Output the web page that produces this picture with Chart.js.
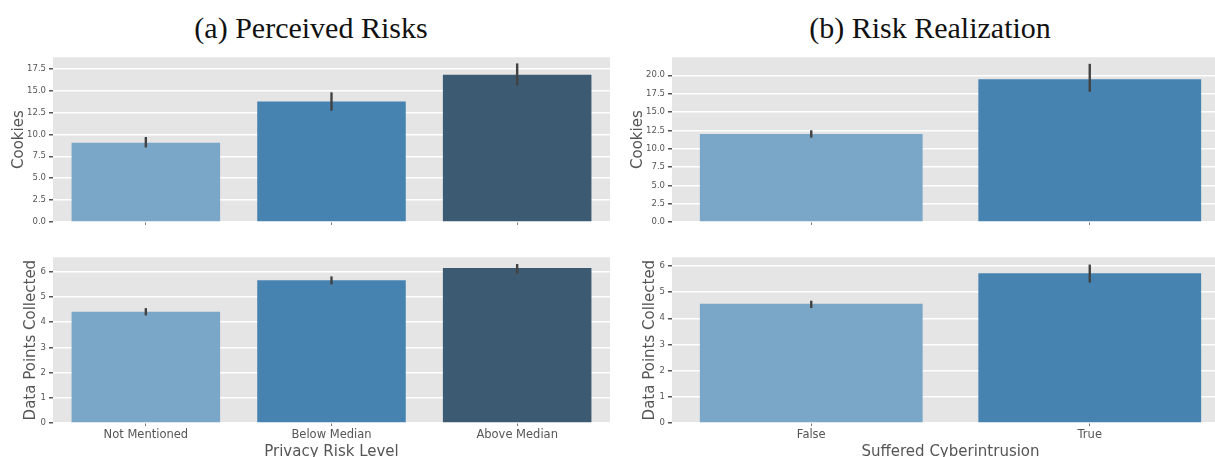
<!DOCTYPE html>
<html>
<head>
<meta charset="utf-8">
<script src="https://cdn.jsdelivr.net/npm/chart.js@4.4.1/dist/chart.umd.min.js"></script>
<style>
  html, body { margin:0; padding:0; background:#ffffff; overflow:hidden; }
  #wrap { position:relative; width:1215px; height:457px; overflow:hidden; background:#fff; }
  .ttl { position:absolute; top:13px; font-family:"Liberation Serif","DejaVu Serif",serif; font-size:30px; line-height:30px; color:#111; text-align:center; white-space:nowrap; }
  .box { position:absolute; }
</style>
</head>
<body>
<div id="wrap">
  <div class="ttl" style="left:111px;width:400px;">(a) Perceived Risks</div>
  <div class="ttl" style="left:730px;width:400px;">(b) Risk Realization</div>
  <div class="box" style="left:0px;top:50px;width:615px;height:180px;"><canvas id="c1"></canvas></div>
  <div class="box" style="left:0px;top:250px;width:615px;height:215px;"><canvas id="c2"></canvas></div>
  <div class="box" style="left:615px;top:50px;width:625px;height:180px;"><canvas id="c3"></canvas></div>
  <div class="box" style="left:615px;top:250px;width:625px;height:215px;"><canvas id="c4"></canvas></div>
</div>
<script>
// ---- data ----
const riskLevels = ['Not Mentioned', 'Below Median', 'Above Median'];
const cookiesByRisk = [9.05, 13.75, 16.8];
const cookiesByRiskLo = [8.5, 12.7, 15.6];
const cookiesByRiskHi = [9.7, 14.8, 18.1];
const dataPointsByRisk = [4.42, 5.67, 6.15];
const dataPointsByRiskLo = [4.27, 5.50, 5.93];
const dataPointsByRiskHi = [4.56, 5.82, 6.31];

const intrusion = ['False', 'True'];
const cookiesByIntrusion = [11.99, 19.46];
const cookiesByIntrusionLo = [11.5, 17.76];
const cookiesByIntrusionHi = [12.5, 21.56];
const dataPointsByIntrusion = [4.55, 5.72];
const dataPointsByIntrusionLo = [4.39, 5.36];
const dataPointsByIntrusionHi = [4.67, 6.05];

const cookieTicksA = [0, 2.5, 5, 7.5, 10, 12.5, 15, 17.5];
const cookieTicksB = [0, 2.5, 5, 7.5, 10, 12.5, 15, 17.5, 20];
const pointTicks = [0, 1, 2, 3, 4, 5, 6];

const barColors = ['#7aa7c7', '#4783b1', '#3c5b72'];

// ---- plugins ----
const bgPlugin = {
  id: 'plotBg',
  beforeDraw(chart) {
    const a = chart.chartArea, ctx = chart.ctx;
    ctx.save();
    ctx.fillStyle = '#e5e5e5';
    ctx.fillRect(a.left, a.top, a.right - a.left, a.bottom - a.top);
    ctx.restore();
  }
};
const errPlugin = {
  id: 'errBars',
  afterDatasetsDraw(chart, args, opts) {
    const xs = chart.scales.x, ys = chart.scales.y, ctx = chart.ctx;
    ctx.save();
    ctx.strokeStyle = '#424242';
    ctx.lineWidth = 2.4;
    ctx.lineCap = 'butt';
    opts.lo.forEach((lo, i) => {
      const x = xs.getPixelForValue(i);
      ctx.beginPath();
      ctx.moveTo(x, ys.getPixelForValue(lo));
      ctx.lineTo(x, ys.getPixelForValue(opts.hi[i]));
      ctx.stroke();
    });
    ctx.restore();
  }
};

function makeChart(id, cfg) {
  const font = 'DejaVu Sans';
  return new Chart(document.getElementById(id), {
    type: 'bar',
    data: {
      labels: cfg.labels,
      datasets: [{
        data: cfg.values,
        backgroundColor: barColors.slice(0, cfg.values.length),
        borderWidth: 0,
        barPercentage: 0.8,
        categoryPercentage: 1.0
      }]
    },
    options: {
      responsive: true,
      maintainAspectRatio: false,
      animation: false,
      events: [],
      layout: { padding: { left: 0, top: cfg.padTop, right: cfg.padRight, bottom: 0 } },
      plugins: {
        legend: { display: false },
        tooltip: { enabled: false },
        errBars: { lo: cfg.lo, hi: cfg.hi }
      },
      scales: {
        x: {
          grid: { display: true, drawOnChartArea: false, drawTicks: true, tickLength: 3, tickColor: '#777', offset: false, lineWidth: 1 },
          border: { display: false },
          ticks: { display: cfg.showX, color: '#555', padding: 2, font: { family: font, size: 11.5 } },
          title: cfg.xTitle ? { display: true, text: cfg.xTitle, color: '#555', font: { family: font, size: 15 }, padding: { top: 0, bottom: 3.5 } } : { display: false },
          afterFit(s) { s.height = cfg.xHeight; }
        },
        y: {
          min: 0,
          max: cfg.yMax,
          grid: { color: '#ffffff', lineWidth: 1.5, drawTicks: true, tickLength: 4, tickColor: '#555' },
          border: { display: false },
          ticks: {
            color: '#555', padding: 3, font: { family: font, size: 8.5, lineHeight: 1 },
            callback: (v) => cfg.dec ? Number(v).toFixed(1) : String(v)
          },
          title: { display: true, text: cfg.yTitle, color: '#555', font: { family: font, size: 15 }, padding: { top: cfg.yTitlePad, bottom: 0 } },
          afterBuildTicks(s) { s.ticks = cfg.yTicks.map(v => ({ value: v })); },
          afterFit(s) { s.width = cfg.yWidth; }
        }
      }
    },
    plugins: [bgPlugin, errPlugin]
  });
}

makeChart('c1', { labels: riskLevels, values: cookiesByRisk, lo: cookiesByRiskLo, hi: cookiesByRiskHi,
  yMax: 18.8, yTicks: cookieTicksA, dec: true, yTitle: 'Cookies', yTitlePad: 10, yWidth: 53,
  padTop: 5, padRight: 5, xHeight: 8, showX: false, xTitle: null });
makeChart('c2', { labels: riskLevels, values: dataPointsByRisk, lo: dataPointsByRiskLo, hi: dataPointsByRiskHi,
  yMax: 6.58, yTicks: pointTicks, dec: false, yTitle: 'Data Points Collected', yTitlePad: 22.6, yWidth: 53,
  padTop: 6, padRight: 5, xHeight: 42, showX: true, xTitle: 'Privacy Risk Level' });
makeChart('c3', { labels: intrusion, values: cookiesByIntrusion, lo: cookiesByIntrusionLo, hi: cookiesByIntrusionHi,
  yMax: 22.46, yTicks: cookieTicksB, dec: true, yTitle: 'Cookies', yTitlePad: 14, yWidth: 57,
  padTop: 5, padRight: 11, xHeight: 8, showX: false, xTitle: null });
makeChart('c4', { labels: intrusion, values: dataPointsByIntrusion, lo: dataPointsByIntrusionLo, hi: dataPointsByIntrusionHi,
  yMax: 6.33, yTicks: pointTicks, dec: false, yTitle: 'Data Points Collected', yTitlePad: 26.6, yWidth: 57,
  padTop: 6, padRight: 11, xHeight: 42, showX: true, xTitle: 'Suffered Cyberintrusion' });
</script>
</body>
</html>
